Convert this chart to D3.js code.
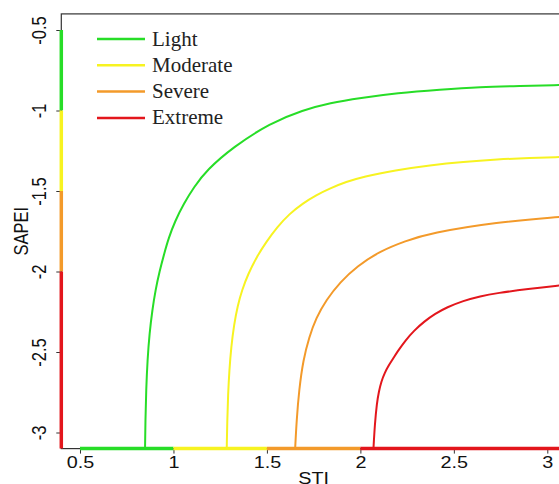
<!DOCTYPE html>
<html lang="en">
<head>
<meta charset="UTF-8">
<title>STI vs SAPEI</title>
<script src="https://cdn.jsdelivr.net/npm/d3@7"></script>
<style>
    body { margin: 0; background: #fff; }
    svg { display: block; }
    .tick line { stroke: #333; }
    .lab { font-family: "Liberation Sans", Arial, sans-serif; font-size: 16.5px; fill: #111; }
    .legend text { font-family: "Liberation Serif", "Times New Roman", serif; font-size: 21px; fill: #222; }
</style>
</head>
<body>
<svg width="559" height="484"></svg>
<script>
    // drought classes
    var levels = ["Light", "Moderate", "Severe", "Extreme"];
    var colors = ["#27dd27", "#f7f321", "#f39a2a", "#e3161c"];

    // threshold curves, [STI, SAPEI]
    var lightCurve = [[0.848, -3.1], [0.850, -2.922], [0.854, -2.736], [0.861, -2.550], [0.872, -2.382],
        [0.887, -2.239], [0.904, -2.115], [0.926, -1.997], [0.950, -1.891], [0.974, -1.792],
        [1.009, -1.686], [1.054, -1.581], [1.110, -1.475], [1.178, -1.370], [1.319, -1.227],
        [1.517, -1.078], [1.694, -0.997], [1.838, -0.953], [1.999, -0.922], [2.197, -0.891],
        [2.427, -0.870], [2.641, -0.854], [2.856, -0.848], [3.064, -0.842], [3.1, -0.841]];
    var moderateCurve = [[1.285, -3.1], [1.288, -2.922], [1.292, -2.767], [1.299, -2.612], [1.309, -2.469],
        [1.324, -2.332], [1.343, -2.214], [1.367, -2.115], [1.399, -2.016], [1.448, -1.904],
        [1.496, -1.817], [1.555, -1.724], [1.619, -1.643], [1.694, -1.575], [1.763, -1.526],
        [1.838, -1.483], [1.924, -1.443], [2.015, -1.411], [2.186, -1.371], [2.374, -1.340],
        [2.550, -1.319], [2.732, -1.304], [2.909, -1.294], [3.064, -1.289], [3.1, -1.288]];
    var severeCurve = [[1.651, -3.1], [1.659, -2.922], [1.672, -2.736], [1.694, -2.550], [1.726, -2.407],
        [1.763, -2.289], [1.817, -2.177], [1.892, -2.065], [1.983, -1.966], [2.106, -1.873],
        [2.240, -1.811], [2.374, -1.761], [2.732, -1.693], [3.064, -1.661], [3.1, -1.659]];
    var extremeCurve = [[2.070, -3.1], [2.077, -2.953], [2.088, -2.817], [2.099, -2.745], [2.112, -2.683],
        [2.130, -2.630], [2.151, -2.584], [2.176, -2.540], [2.197, -2.500], [2.240, -2.429],
        [2.288, -2.366], [2.342, -2.310], [2.400, -2.262], [2.463, -2.222], [2.550, -2.182],
        [2.641, -2.153], [2.731, -2.134], [2.898, -2.108], [3.064, -2.087], [3.1, -2.084]];

    // class limits marked along the axes
    var stiBreaks = [0.5, 1, 1.5, 2, 3.1];
    var sapeiBreaks = [-0.5, -1, -1.5, -2, -3.1];

    var xTicks = [0.5, 1, 1.5, 2, 2.5, 3];
    var yTicks = [-3, -2.5, -2, -1.5, -1, -0.5];

    var curves = [lightCurve, moderateCurve, severeCurve, extremeCurve];

    var svg = d3.select("svg");
    var plotLeft = 61.3, plotRight = 566, plotTop = 13.9, plotBottom = 448.6;
    var stretch = "scale(1.2,1)";

    var x = d3.scaleLinear().domain([0.4, 3.1]).range([plotLeft, plotRight]);
    var y = d3.scaleLinear().domain([-3.1, -0.4]).range([plotBottom, plotTop]);

    // plot box
    svg.append("rect")
        .attr("x", plotLeft).attr("y", plotTop)
        .attr("width", plotRight - plotLeft).attr("height", plotBottom - plotTop)
        .attr("fill", "none").attr("stroke", "#333").attr("stroke-width", 1.2);

    // x axis
    var gx = svg.append("g")
        .attr("transform", "translate(0," + plotBottom + ")")
        .call(d3.axisBottom(x).tickValues(xTicks).tickSize(5).tickPadding(3).tickFormat(d3.format("")));
    gx.select(".domain").remove();
    gx.selectAll("text").attr("class", "lab")
        .attr("transform", stretch);
    gx.attr("font-size", null).attr("font-family", null);

    // y axis
    var gy = svg.append("g")
        .attr("transform", "translate(" + plotLeft + ",0)")
        .call(d3.axisLeft(y).tickValues(yTicks).tickSize(5).tickFormat(d3.format("")));
    gy.select(".domain").remove();
    gy.selectAll("text").remove();
    gy.selectAll(".tick").append("text")
        .attr("class", "lab")
        .attr("text-anchor", "middle")
        .attr("transform", "translate(-15,0) " + stretch + " rotate(-90)")
        .text(function (d) { return d; });
    gy.attr("font-size", null).attr("font-family", null);

    // axis titles
    svg.append("text").attr("class", "lab")
        .attr("text-anchor", "middle")
        .attr("transform", "translate(" + (plotLeft + plotRight) / 2 + ",484) " + stretch)
        .text("STI");
    svg.append("text").attr("class", "lab")
        .attr("text-anchor", "middle")
        .attr("transform", "translate(28," + (plotTop + plotBottom) / 2 + ") " + stretch + " rotate(-90)")
        .text("SAPEI");

    // colored class segments on the axes
    levels.forEach(function (name, i) {
        svg.append("line")
            .attr("x1", x(stiBreaks[i])).attr("x2", x(stiBreaks[i + 1]))
            .attr("y1", plotBottom).attr("y2", plotBottom)
            .attr("stroke", colors[i]).attr("stroke-width", 3.5);
        svg.append("line")
            .attr("x1", plotLeft).attr("x2", plotLeft)
            .attr("y1", y(sapeiBreaks[i])).attr("y2", y(sapeiBreaks[i + 1]))
            .attr("stroke", colors[i]).attr("stroke-width", 3.5);
    });

    // curves
    var line = d3.line()
        .x(function (d) { return x(d[0]); })
        .y(function (d) { return y(d[1]); })
        .curve(d3.curveBasis);

    svg.selectAll(".curve")
        .data(curves)
        .enter()
        .append("path")
        .attr("class", "curve")
        .attr("fill", "none")
        .attr("stroke", function (d, i) { return colors[i]; })
        .attr("stroke-width", 2)
        .attr("d", line);

    // legend
    var legend = svg.append("g").attr("class", "legend");
    var item = legend.selectAll("g")
        .data(levels)
        .enter()
        .append("g")
        .attr("transform", function (d, i) { return "translate(97," + (39 + i * 26.3) + ")"; });
    item.append("line")
        .attr("x1", 0).attr("x2", 48)
        .attr("stroke", function (d, i) { return colors[i]; })
        .attr("stroke-width", 2.5);
    item.append("text")
        .attr("x", 55).attr("y", 6.5)
        .text(function (d) { return d; });
</script>
</body>
</html>
